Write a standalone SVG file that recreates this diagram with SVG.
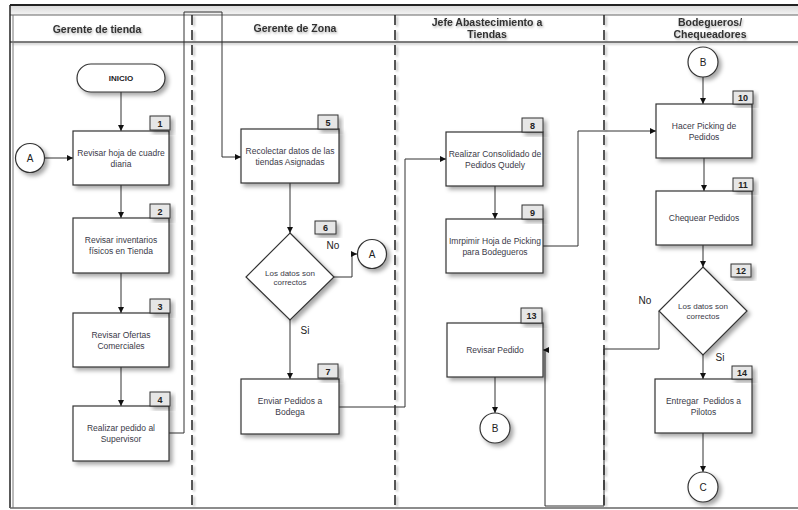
<svg xmlns="http://www.w3.org/2000/svg" width="798" height="510" viewBox="0 0 798 510">
<defs>
<filter id="sh" x="-20%" y="-20%" width="150%" height="150%">
<feDropShadow dx="3" dy="3" stdDeviation="2" flood-color="#000" flood-opacity="0.35"/>
</filter>
<filter id="tsh" x="-10%" y="-30%" width="120%" height="170%">
<feDropShadow dx="1" dy="1.5" stdDeviation="1" flood-color="#000" flood-opacity="0.3"/>
</filter>
<filter id="lsh" filterUnits="userSpaceOnUse" x="0" y="0" width="798" height="510">
<feDropShadow dx="2" dy="1.5" stdDeviation="1.2" flood-color="#000" flood-opacity="0.3"/>
</filter>
<marker id="ar" viewBox="0 0 6 6" refX="6" refY="3" markerWidth="6" markerHeight="6" markerUnits="userSpaceOnUse" orient="auto">
<path d="M0,0 L6,3 L0,6 z" fill="#111"/>
</marker>
<linearGradient id="topg" x1="0" y1="0" x2="0" y2="1">
<stop offset="0" stop-color="#d8d8d8"/>
<stop offset="1" stop-color="#f4f4f4"/>
</linearGradient>
</defs>
<style>
.box{fill:#fff;stroke:#333;stroke-width:1.2;filter:url(#sh)}
.tag{fill:#e6e6e6;stroke:#333;stroke-width:1;filter:url(#sh)}
.tt{font-family:"Liberation Sans",Arial,sans-serif;font-size:9px;font-weight:bold;fill:#222;text-anchor:middle}
.bt{font-family:"Liberation Sans",Arial,sans-serif;font-size:8.5px;fill:#3a3a48;text-anchor:middle}
.dt{font-family:"Liberation Sans",Arial,sans-serif;font-size:8px;fill:#3a3a48;text-anchor:middle}
.ht{font-family:"Liberation Sans",Arial,sans-serif;font-size:10.5px;font-weight:bold;fill:#333;text-anchor:middle;filter:url(#tsh)}
.lb{font-family:"Liberation Sans",Arial,sans-serif;font-size:10px;fill:#222;text-anchor:middle}
.ct{font-family:"Liberation Sans",Arial,sans-serif;font-size:10px;fill:#222;text-anchor:middle}
.lane{stroke:#222;stroke-width:1.5;stroke-dasharray:10,5;fill:none}
.cna{fill:none;stroke:#333;stroke-width:1;marker-end:url(#ar)}
</style>
<rect x="0" y="0" width="798" height="510" fill="#fff"/>
<g id="frame">
<rect x="10" y="5" width="788" height="10" fill="url(#topg)"/>
<line x1="10" y1="5" x2="798" y2="5" stroke="#222" stroke-width="2"/>
<line x1="10" y1="15" x2="798" y2="15" stroke="#666" stroke-width="1"/>
<g filter="url(#lsh)">
<line x1="10" y1="42" x2="798" y2="42" stroke="#555" stroke-width="1.5"/>
<line class="lane" x1="192" y1="15" x2="192" y2="508"/>
<line class="lane" x1="395" y1="15" x2="395" y2="508"/>
<line class="lane" x1="604" y1="15" x2="604" y2="508"/>
</g>
<line x1="10" y1="5" x2="10" y2="508" stroke="#222" stroke-width="1.5"/>
<line x1="13" y1="15" x2="13" y2="508" stroke="#777" stroke-width="1"/>
<line x1="10" y1="508" x2="798" y2="508" stroke="#666" stroke-width="1.5"/>
<text class="ht" x="97" y="33">Gerente de tienda</text>
<text class="ht" x="295" y="32">Gerente de Zona</text>
<text class="ht" x="487" y="26">Jefe Abastecimiento a</text>
<text class="ht" x="487" y="38">Tiendas</text>
<text class="ht" x="710" y="26">Bodegueros/</text>
<text class="ht" x="710" y="38">Chequeadores</text>
</g>
<g id="connectors">
<path class="cna" d="M121,92 V131"/>
<path class="cna" d="M44,158 H73"/>
<path class="cna" d="M121,185 V218"/>
<path class="cna" d="M121,273 V313"/>
<path class="cna" d="M121,367 V406"/>
<path class="cna" d="M169,433 H184 V12 H222 V157 H241"/>
<path class="cna" d="M290,183 V233"/>
<path class="cna" d="M334,277 H352 V254 H357"/>
<path class="cna" d="M290,319 V379"/>
<path class="cna" d="M339,407 H405 V159 H446"/>
<path class="cna" d="M495,186 V219"/>
<path class="cna" d="M543,246 H578 V131 H656"/>
<path class="cna" d="M703,77 V104"/>
<path class="cna" d="M704,158 V191"/>
<path class="cna" d="M703,245 V267"/>
<path class="cna" d="M659,311 V349 H604 V506 H545 V350 H543"/>
<path class="cna" d="M495,377 V413"/>
<path class="cna" d="M703,355 V379"/>
<path class="cna" d="M703,433 V472"/>
<text class="lb" x="333" y="249">No</text>
<text class="lb" x="305" y="334">Si</text>
<text class="lb" x="645" y="304">No</text>
<text class="lb" x="720" y="361">Si</text>
</g>
<g id="inicio">
<rect class="box" x="77" y="64" width="88" height="28" rx="14" ry="14"/>
<text class="tt" x="121" y="81" style="font-size:8px">INICIO</text>
</g>
<g id="conA1">
<circle class="box" cx="30" cy="158" r="14.5"/>
<text class="ct" x="30" y="161.5">A</text>
</g>
<g id="n1">
<rect class="box" x="73" y="131" width="96" height="54"/>
<rect class="tag" x="150" y="116" width="20" height="14"/>
<text class="tt" x="160" y="126.5">1</text>
<text class="bt" x="121" y="155.5">Revisar hoja de cuadre</text>
<text class="bt" x="121" y="166.5">diaria</text>
</g>
<g id="n2">
<rect class="box" x="73" y="218" width="96" height="55"/>
<rect class="tag" x="150" y="204" width="20" height="14"/>
<text class="tt" x="160" y="214.5">2</text>
<text class="bt" x="121" y="243">Revisar inventarios</text>
<text class="bt" x="121" y="254">físicos en Tienda</text>
</g>
<g id="n3">
<rect class="box" x="73" y="313" width="96" height="54"/>
<rect class="tag" x="150" y="299" width="20" height="14"/>
<text class="tt" x="160" y="309.5">3</text>
<text class="bt" x="121" y="338">Revisar Ofertas</text>
<text class="bt" x="121" y="349">Comerciales</text>
</g>
<g id="n4">
<rect class="box" x="73" y="406" width="96" height="55"/>
<rect class="tag" x="150" y="392" width="20" height="14"/>
<text class="tt" x="160" y="402.5">4</text>
<text class="bt" x="121" y="431">Realizar pedido al</text>
<text class="bt" x="121" y="442">Supervisor</text>
</g>
<g id="n5">
<rect class="box" x="241" y="129" width="98" height="54"/>
<rect class="tag" x="318" y="115" width="20" height="14"/>
<text class="tt" x="328" y="125.5">5</text>
<text class="bt" x="290" y="154">Recolectar datos de las</text>
<text class="bt" x="290" y="165">tiendas Asignadas</text>
</g>
<g id="n6">
<polygon class="box" points="290,233 334,277 290,320 246,277"/>
<rect class="tag" x="315" y="221" width="21" height="13"/>
<text class="tt" x="325.5" y="231">6</text>
<text class="dt" x="290" y="275.5">Los datos son</text>
<text class="dt" x="290" y="284.5">correctos</text>
</g>
<g id="conA2">
<circle class="box" cx="372" cy="254" r="14.5"/>
<text class="ct" x="372" y="257.5">A</text>
</g>
<g id="n7">
<rect class="box" x="241" y="379" width="98" height="55"/>
<rect class="tag" x="318" y="364" width="20" height="14"/>
<text class="tt" x="328" y="374.5">7</text>
<text class="bt" x="290" y="404">Enviar Pedidos a</text>
<text class="bt" x="290" y="415">Bodega</text>
</g>
<g id="n8">
<rect class="box" x="446" y="132" width="97" height="54"/>
<rect class="tag" x="522" y="118" width="21" height="14"/>
<text class="tt" x="532.5" y="128.5">8</text>
<text class="bt" x="495" y="157">Realizar Consolidado de</text>
<text class="bt" x="495" y="168">Pedidos Qudely</text>
</g>
<g id="n9">
<rect class="box" x="446" y="219" width="97" height="54"/>
<rect class="tag" x="522" y="205" width="21" height="14"/>
<text class="tt" x="532.5" y="215.5">9</text>
<text class="bt" x="495" y="244">Imrpimir Hoja de Picking</text>
<text class="bt" x="495" y="255">para Bodegueros</text>
</g>
<g id="n13">
<rect class="box" x="447" y="323" width="96" height="54"/>
<rect class="tag" x="521" y="308" width="21" height="15"/>
<text class="tt" x="531.5" y="319">13</text>
<text class="bt" x="495" y="353">Revisar Pedido</text>
</g>
<g id="conB2">
<circle class="box" cx="495" cy="428" r="15"/>
<text class="ct" x="495" y="431.5">B</text>
</g>
<g id="conB1">
<circle class="box" cx="703" cy="62" r="15"/>
<text class="ct" x="703" y="65.5">B</text>
</g>
<g id="n10">
<rect class="box" x="656" y="104" width="96" height="54"/>
<rect class="tag" x="733" y="91" width="20" height="13"/>
<text class="tt" x="743" y="101">10</text>
<text class="bt" x="704" y="129">Hacer Picking de</text>
<text class="bt" x="704" y="140">Pedidos</text>
</g>
<g id="n11">
<rect class="box" x="656" y="191" width="96" height="54"/>
<rect class="tag" x="733" y="178" width="20" height="13"/>
<text class="tt" x="743" y="188">11</text>
<text class="bt" x="704" y="221">Chequear Pedidos</text>
</g>
<g id="n12">
<polygon class="box" points="703,267 747,311 703,355 659,311"/>
<rect class="tag" x="731" y="264" width="20" height="13"/>
<text class="tt" x="741" y="274">12</text>
<text class="dt" x="703" y="309">Los datos son</text>
<text class="dt" x="703" y="319">correctos</text>
</g>
<g id="n14">
<rect class="box" x="655" y="379" width="97" height="54"/>
<rect class="tag" x="732" y="366" width="20" height="13"/>
<text class="tt" x="742" y="376">14</text>
<text class="bt" x="703.5" y="404" xml:space="preserve">Entregar  Pedidos a</text>
<text class="bt" x="703.5" y="415">Pilotos</text>
</g>
<g id="conC">
<circle class="box" cx="703" cy="487" r="15"/>
<text class="ct" x="703" y="490.5">C</text>
</g>
</svg>
